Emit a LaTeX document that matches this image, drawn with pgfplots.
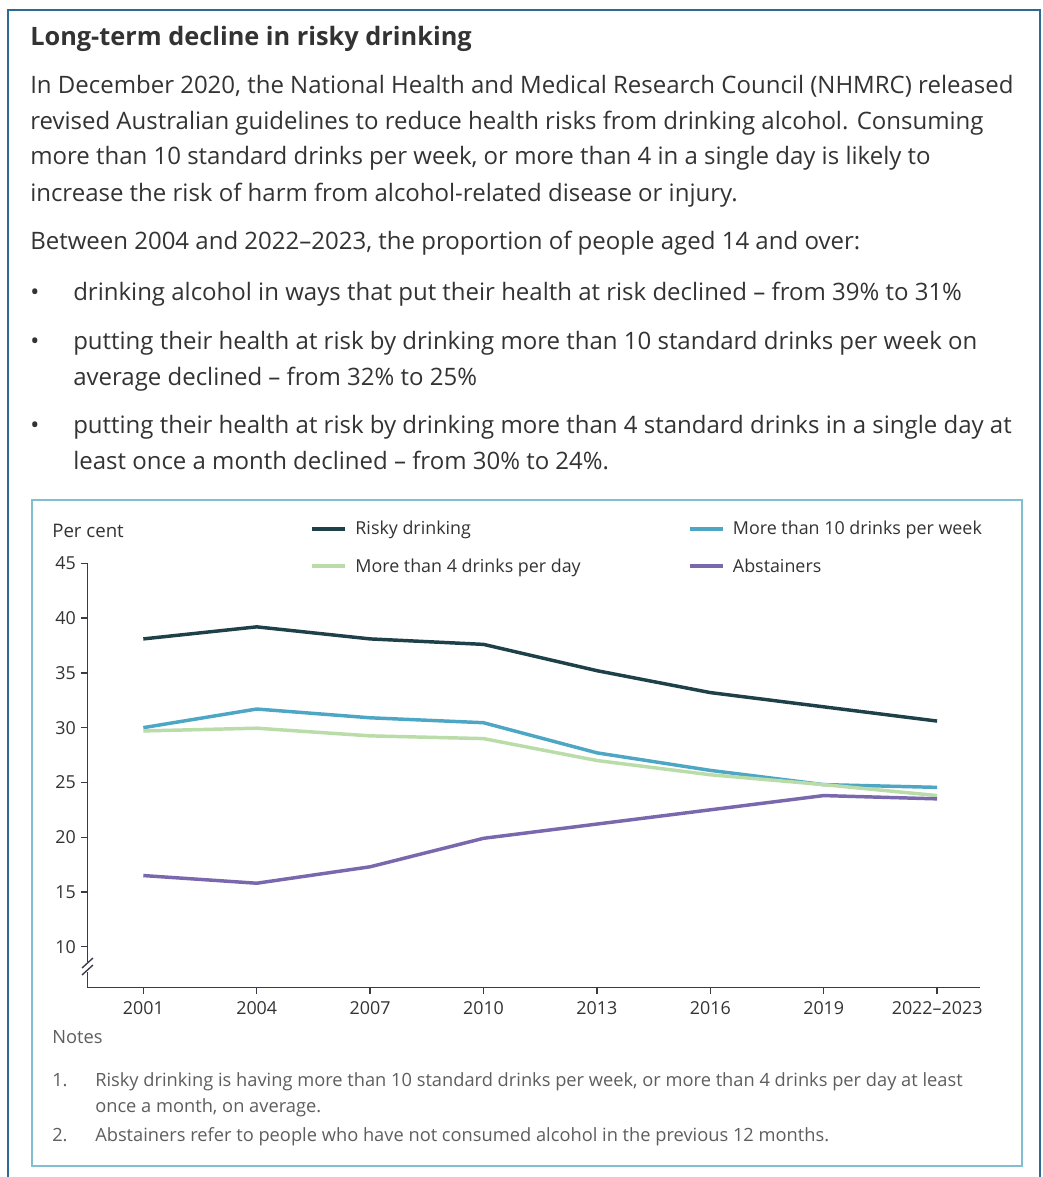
\documentclass[border=0pt]{standalone}
\usepackage{pgfplots}
\pgfplotsset{compat=1.18}
\usepackage{fontspec}
\setmainfont{Open Sans}
\definecolor{risky}{HTML}{1E4049}
\definecolor{week}{HTML}{4DA6C4}
\definecolor{day}{HTML}{B9DCA9}
\definecolor{abst}{HTML}{7A68AE}
\definecolor{frame}{HTML}{2E6A96}
\definecolor{boxc}{HTML}{7FBFD0}
\definecolor{txt}{HTML}{333333}
\definecolor{note}{HTML}{5E5E5E}
\definecolor{axc}{HTML}{3A3A48}
\newcommand\bodyfont{\fontsize{18pt}{20pt}\selectfont}
\newcommand\chartfont{\fontsize{13.4pt}{15pt}\selectfont}
\begin{document}
\begin{tikzpicture}
\begin{scope}[x=0.75pt,y=-0.75pt]
\useasboundingbox (0,0) rectangle (1042,1177);
\fill[white] (0,0) rectangle (1042,1177);
\draw[frame, line width=1.2pt] (8,1177) -- (8,10) -- (1040,10) -- (1040,1177);
\draw[boxc, line width=1pt] (32,500) rectangle (1022,1166);
\node[anchor=base west, inner sep=0, text=txt, font=\fontsize{19pt}{22pt}\selectfont\bfseries] at (30,46) {Long-term decline in risky drinking};
\begin{scope}[every node/.style={anchor=base west, inner sep=0, text=txt, font=\bodyfont}]
\node at (30,94) {In December 2020, the National Health and Medical Research Council (NHMRC) released};
\node at (30,130) {revised Australian guidelines to reduce health risks from drinking alcohol. Consuming};
\node at (30,165) {more than 10 standard drinks per week, or more than 4 in a single day is likely to};
\node at (30,201) {increase the risk of harm from alcohol-related disease or injury.};
\node at (30,249) {Between 2004 and 2022--2023, the proportion of people aged 14 and over:};
\node at (30,300) {\textbullet};
\node at (73,300) {drinking alcohol in ways that put their health at risk declined -- from 39\% to 31\%};
\node at (30,349) {\textbullet};
\node at (73,349) {putting their health at risk by drinking more than 10 standard drinks per week on};
\node at (73,385) {average declined -- from 32\% to 25\%};
\node at (30,433) {\textbullet};
\node at (73,433) {putting their health at risk by drinking more than 4 standard drinks in a single day at};
\node at (73,469) {least once a month declined -- from 30\% to 24\%.};
\end{scope}
\node[anchor=base west, inner sep=0, text=txt, font=\fontsize{14pt}{16pt}\selectfont] at (52,537) {Per cent};
\begin{scope}[every node/.style={anchor=base west, inner sep=0, text=note, font=\fontsize{13.7pt}{15pt}\selectfont}]
\node at (52,1043) {Notes};
\node at (52,1086) {1.};
\node at (95,1086) {Risky drinking is having more than 10 standard drinks per week, or more than 4 drinks per day at least};
\node at (95,1112) {once a month, on average.};
\node at (52,1141) {2.};
\node at (95,1141) {Abstainers refer to people who have not consumed alcohol in the previous 12 months.};
\end{scope}
\end{scope}
\begin{axis}[
  at={(65.475pt,-740.475pt)}, anchor=south west,
  scale only axis, width=669.5pt, height=318pt,
  xmin=-0.494, xmax=7.378, ymin=6.3, ymax=45,
  axis x line*=bottom, axis y line*=left,
  axis line style={axc, line width=1.1pt, -},
  xtick={0,...,7},
  xticklabels={2001,2004,2007,2010,2013,2016,2019,2022--2023},
  ytick={10,15,...,45},
  tick align=outside,
  major tick length=5pt,
  tick style={axc, line width=1pt},
  tick label style={text=txt, font=\chartfont, /pgf/number format/assume math mode=true},
  xticklabel style={yshift=-2pt},
  legend columns=2,
  legend cell align=left,
  legend image code/.code={\draw[line width=3.2pt] (0pt,0pt) -- (25pt,0pt);},
  legend style={draw=none, fill=none, at={(0.249,1.107)}, anchor=north west,
    font=\chartfont, text=txt, inner sep=0pt, row sep=12.5pt,
    /tikz/every odd column/.append style={column sep=4pt},
    /tikz/every even column/.append style={column sep=78pt}},
  every axis plot/.append style={line width=2.6pt, line join=round},
]
\addplot[risky] coordinates {(0,38.1) (1,39.2) (2,38.1) (3,37.6) (4,35.2) (5,33.2) (6,31.9) (7,30.6)};
\addlegendentry{Risky drinking}
\addplot[week] coordinates {(0,30.0) (1,31.7) (2,30.9) (3,30.45) (4,27.7) (5,26.1) (6,24.8) (7,24.55)};
\addlegendentry{More than 10 drinks per week}
\addplot[day] coordinates {(0,29.7) (1,29.95) (2,29.25) (3,29.0) (4,27.0) (5,25.7) (6,24.8) (7,23.8)};
\addlegendentry{More than 4 drinks per day}
\addplot[abst] coordinates {(0,16.5) (1,15.8) (2,17.3) (3,19.9) (4,21.2) (5,22.5) (6,23.8) (7,23.5)};
\addlegendentry{Abstainers}
\end{axis}
\begin{scope}[x=0.75pt,y=-0.75pt]
\fill[white] (83,962) rectangle (92,972);
\draw[axc, line width=1pt] (82,968) -- (93,958);
\draw[axc, line width=1pt] (82,975) -- (93,965);
\end{scope}
\end{tikzpicture}
\end{document}
